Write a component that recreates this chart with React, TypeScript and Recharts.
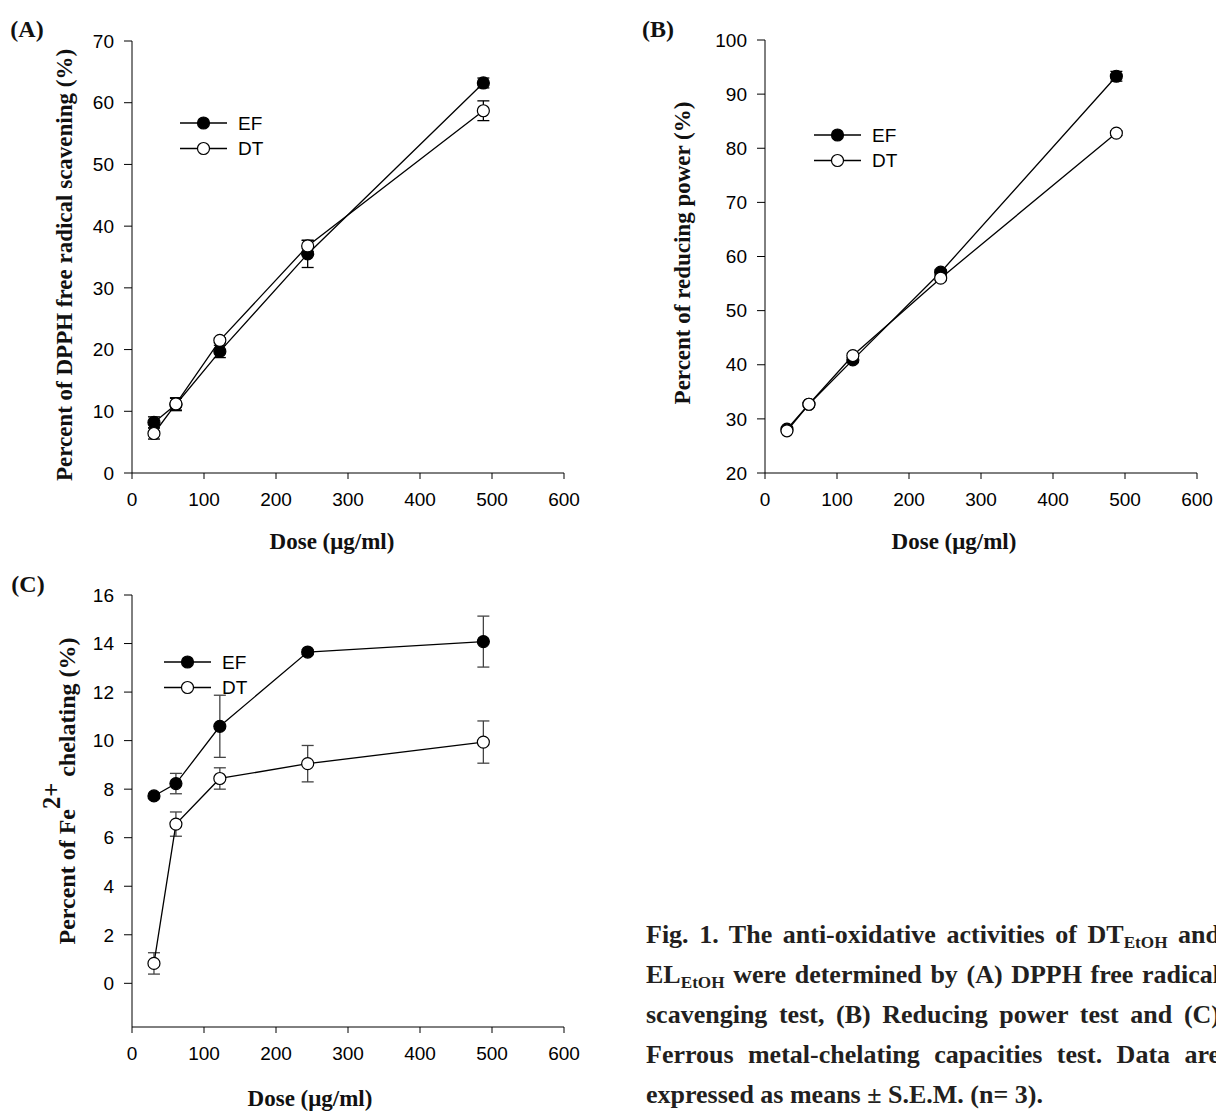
import React from 'react';
import { LineChart, Line, XAxis, YAxis, ErrorBar, Legend } from 'recharts';

// ---------- data ----------
const doses = [30.5, 61, 122, 244, 488];
const xTicks = [0, 100, 200, 300, 400, 500, 600];

// (A) DPPH free radical scavenging (%)
const dpphEF = [8.2, 11.1, 19.7, 35.5, 63.2];
const dpphEFErr = [0.9, 1.0, 1.0, 2.2, 0.8];
const dpphDT = [6.4, 11.2, 21.5, 36.8, 58.7];
const dpphDTErr = [0.9, 1.0, 0.4, 0.9, 1.6];
const dpphTicks = [0, 10, 20, 30, 40, 50, 60, 70];

// (B) Reducing power (%)
const rpEF = [28.1, 32.7, 40.9, 57.1, 93.3];
const rpEFErr = [0.4, 0.3, 0.4, 0.5, 0.9];
const rpDT = [27.8, 32.7, 41.7, 56.0, 82.8];
const rpDTErr = [0.3, 0.3, 0.4, 0.4, 0.4];
const rpTicks = [20, 30, 40, 50, 60, 70, 80, 90, 100];

// (C) Fe2+ chelating (%)
const feEF = [7.72, 8.23, 10.59, 13.65, 14.08];
const feEFErr = [0.1, 0.42, 1.28, 0.1, 1.05];
const feDT = [0.82, 6.56, 8.44, 9.05, 9.94];
const feDTErr = [0.44, 0.5, 0.44, 0.75, 0.87];
const feTicks = [0, 2, 4, 6, 8, 10, 12, 14, 16];

const seriesNames = ['EF', 'DT'];

const buildData = (ef: number[], efErr: number[], dt: number[], dtErr: number[]) =>
  doses.map((d, i) => ({ dose: d, EF: ef[i], efErr: efErr[i], DT: dt[i], dtErr: dtErr[i] }));

const dataA = buildData(dpphEF, dpphEFErr, dpphDT, dpphDTErr);
const dataB = buildData(rpEF, rpEFErr, rpDT, rpDTErr);
const dataC = buildData(feEF, feEFErr, feDT, feDTErr);

// ---------- styles ----------
const SANS = '"Liberation Sans", Arial, sans-serif';
const SERIF = '"Liberation Serif", "Times New Roman", serif';
const fillOf: Record<string, string> = { EF: '#000', DT: '#fff' };

const renderLegend = (props: any) => {
  const payload = props.payload || [];
  const items = seriesNames
    .map((n) => payload.find((p: any) => p.value === n))
    .filter(Boolean);
  return (
    <svg width={130} height={56} style={{ overflow: 'visible' }}>
      {items.map((p: any, i: number) => {
        const y = 13 + i * 25.5;
        return (
          <g key={p.value}>
            <line x1={0} x2={47} y1={y} y2={y} stroke="#000" strokeWidth={1.3} />
            <circle cx={23.5} cy={y} r={6} fill={fillOf[p.value]} stroke="#000" strokeWidth={1.2} />
            <text x={58} y={y} dy="0.36em" fontFamily={SANS} fontSize={19} fill="#000">
              {p.value}
            </text>
          </g>
        );
      })}
    </svg>
  );
};

type PanelProps = {
  left: number;
  top: number;
  width: number;
  height: number;
  margin: { top: number; right: number; bottom: number; left: number };
  yWidth: number;
  domain: [number, number];
  ticks: number[];
  data: any[];
  legendLeft: number;
  legendTop: number;
  errColor: string;
};

const Panel = (p: PanelProps) => (
  <div style={{ position: 'absolute', left: p.left, top: p.top }}>
    <LineChart width={p.width} height={p.height} data={p.data} margin={p.margin}>
      <XAxis
        dataKey="dose"
        type="number"
        domain={[0, 600]}
        ticks={xTicks}
        allowDataOverflow
        height={40}
        tickSize={6}
        tickMargin={14}
        axisLine={{ stroke: '#000', strokeWidth: 1 }}
        tickLine={{ stroke: '#000', strokeWidth: 1 }}
        tick={{ fill: '#000', fontSize: 19, fontFamily: SANS }}
        interval={0}
      />
      <YAxis
        type="number"
        domain={p.domain}
        ticks={p.ticks}
        allowDataOverflow
        width={p.yWidth}
        tickSize={8}
        tickMargin={10}
        axisLine={{ stroke: '#000', strokeWidth: 1 }}
        tickLine={{ stroke: '#000', strokeWidth: 1 }}
        tick={{ fill: '#000', fontSize: 19, fontFamily: SANS }}
        interval={0}
      />
      <Legend
        content={renderLegend}
        layout="vertical"
        align="center"
        verticalAlign="middle"
        wrapperStyle={{ position: 'absolute', left: p.legendLeft, top: p.legendTop, width: 130, height: 56 }}
      />
      <Line
        dataKey="EF"
        name="EF"
        isAnimationActive={false}
        stroke="#000"
        strokeWidth={1.3}
        dot={{ r: 6, fill: '#000', stroke: '#000', strokeWidth: 1.2 }}
        activeDot={false}
      >
        <ErrorBar dataKey="efErr" direction="y" width={6} stroke={p.errColor} strokeWidth={1.3} isAnimationActive={false} />
      </Line>
      <Line
        dataKey="DT"
        name="DT"
        isAnimationActive={false}
        stroke="#000"
        strokeWidth={1.3}
        dot={{ r: 6, fill: '#fff', stroke: '#000', strokeWidth: 1.2 }}
        activeDot={false}
      >
        <ErrorBar dataKey="dtErr" direction="y" width={6} stroke={p.errColor} strokeWidth={1.3} isAnimationActive={false} />
      </Line>
    </LineChart>
  </div>
);

const textAbs = (x: number, y: number, size: number, rotate = false): React.CSSProperties => ({
  position: 'absolute',
  left: x,
  top: y,
  transform: rotate ? 'translate(-50%, -50%) rotate(-90deg)' : 'translate(-50%, -50%)',
  fontFamily: SERIF,
  fontWeight: 'bold',
  fontSize: size,
  whiteSpace: 'nowrap',
  color: '#111',
  lineHeight: 1,
});

const capLine: React.CSSProperties = {
  height: 40,
  lineHeight: '40px',
  textAlign: 'justify',
  textAlignLast: 'justify' as any,
  whiteSpace: 'nowrap',
};

const Sub = ({ children }: { children: React.ReactNode }) => (
  <span style={{ fontSize: '0.66em', position: 'relative', top: '0.3em' }}>{children}</span>
);

export default function App() {
  return (
    <div
      style={{
        position: 'absolute',
        left: 0,
        top: 0,
        width: 1216,
        height: 1111,
        overflow: 'hidden',
        background: '#fff',
      }}
    >
      <Panel
        left={0}
        top={0}
        width={600}
        height={560}
        margin={{ top: 41, right: 36, bottom: 47, left: 0 }}
        yWidth={132}
        domain={[0, 70]}
        ticks={dpphTicks}
        data={dataA}
        legendLeft={180}
        legendTop={110}
        errColor="#000"
      />
      <Panel
        left={600}
        top={0}
        width={616}
        height={560}
        margin={{ top: 40, right: 19, bottom: 47, left: 0 }}
        yWidth={165}
        domain={[20, 100]}
        ticks={rpTicks}
        data={dataB}
        legendLeft={214}
        legendTop={122}
        errColor="#000"
      />
      <Panel
        left={0}
        top={560}
        width={600}
        height={551}
        margin={{ top: 35, right: 36, bottom: 44, left: 0 }}
        yWidth={132}
        domain={[-1.8, 16]}
        ticks={feTicks}
        data={dataC}
        legendLeft={164}
        legendTop={89}
        errColor="#444"
      />

      {/* panel letters */}
      <div style={textAbs(27, 29, 24)}>(A)</div>
      <div style={textAbs(658, 29, 24)}>(B)</div>
      <div style={textAbs(28, 584, 24)}>(C)</div>

      {/* axis titles */}
      <div style={textAbs(64, 265, 23, true)}>Percent of DPPH free radical scavening (%)</div>
      <div style={textAbs(682, 253, 23, true)}>Percent of reducing power (%)</div>
      <div style={textAbs(67, 791, 24, true)}>
        Percent of Fe
        <span style={{ position: 'relative', top: '-0.62em', fontSize: '1.02em' }}>2+</span> chelating (%)
      </div>
      <div style={textAbs(332, 541, 23)}>Dose (μg/ml)</div>
      <div style={textAbs(954, 541, 23)}>Dose (μg/ml)</div>
      <div style={textAbs(310, 1098, 23)}>Dose (μg/ml)</div>

      {/* caption */}
      <div
        style={{
          position: 'absolute',
          left: 646,
          top: 915,
          width: 574,
          fontFamily: SERIF,
          fontWeight: 'bold',
          fontSize: 26,
          color: '#231f20',
        }}
      >
        <div style={capLine}>
          Fig. 1. The anti-oxidative activities of DT<Sub>EtOH</Sub> and
        </div>
        <div style={capLine}>
          EL<Sub>EtOH</Sub> were determined by (A) DPPH free radical
        </div>
        <div style={capLine}>scavenging test, (B) Reducing power test and (C)</div>
        <div style={capLine}>Ferrous metal-chelating capacities test. Data are</div>
        <div style={{ height: 40, lineHeight: '40px', whiteSpace: 'nowrap' }}>
          expressed as means ± S.E.M. (n= 3).
        </div>
      </div>
    </div>
  );
}
